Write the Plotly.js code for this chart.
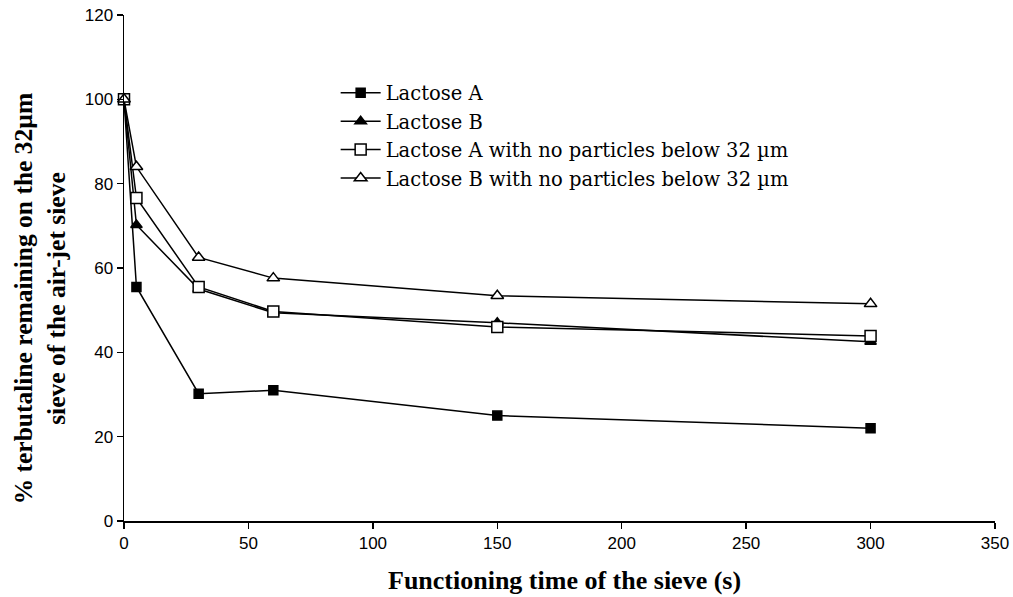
<!DOCTYPE html>
<html>
<head>
<meta charset="utf-8">
<script src="https://cdn.plot.ly/plotly-3.0.1.min.js"></script>
<style>html,body{margin:0;padding:0;background:#fff;}#chart{width:1013px;height:597px;}</style>
</head>
<body>
<div id="chart"></div>
<script>
var timeSeconds = [0, 5, 30, 60, 150, 300];
var lactoseA = [100, 55.5, 30.2, 31, 25, 22];
var lactoseB = [100, 70.2, 55, 49.4, 47, 42.5];
var lactoseANoFines = [100, 76.6, 55.5, 49.7, 46, 43.9];
var lactoseBNoFines = [100, 84, 62.5, 57.6, 53.4, 51.5];
var seriesNames = ["Lactose A", "Lactose B", "Lactose A with no particles below 32 \u00b5m", "Lactose B with no particles below 32 \u00b5m"];
var xTitle = "Functioning time of the sieve (s)";
var yTitle = "% terbutaline remaining on the 32\u00b5m<br>sieve of the air-jet sieve";

function mk(y, name, symbol, size, fill) {
  return {
    x: timeSeconds, y: y, name: name, type: 'scatter', mode: 'lines+markers',
    line: {color: '#000', width: 1.5},
    marker: {symbol: symbol, size: size, color: fill, line: {color: '#000', width: 1.5}},
    cliponaxis: false
  };
}
var data = [
  mk(lactoseA, seriesNames[0], 'square', 9, '#000'),
  mk(lactoseB, seriesNames[1], 'triangle-up', 10, '#000'),
  mk(lactoseANoFines, seriesNames[2], 'square', 11, '#fff'),
  mk(lactoseBNoFines, seriesNames[3], 'triangle-up', 11, '#fff')
];
var layout = {
  width: 1013, height: 597,
  margin: {l: 124, r: 18, t: 15, b: 76},
  paper_bgcolor: '#fff', plot_bgcolor: '#fff',
  showlegend: true,
  legend: {x: 0.243, y: 0.884, xanchor: 'left', yanchor: 'top', bgcolor: 'rgba(0,0,0,0)',
           font: {family: 'DejaVu Serif, serif', size: 19.5, color: '#000'},
           tracegroupgap: 0, itemwidth: 40},
  xaxis: {range: [0, 350], dtick: 50, showgrid: false, zeroline: false, showline: true,
          linecolor: '#000', linewidth: 1.5, ticks: 'outside', ticklen: 6, tickcolor: '#000', tickwidth: 1.5,
          tickfont: {family: 'Liberation Sans, Arial, sans-serif', size: 17, color: '#000'}},
  yaxis: {range: [0, 120], dtick: 20, showgrid: false, zeroline: false, showline: true,
          linecolor: '#000', linewidth: 1.5, ticks: 'outside', ticklen: 6, tickcolor: '#000', tickwidth: 1.5,
          tickfont: {family: 'Liberation Sans, Arial, sans-serif', size: 17, color: '#000'}},
  annotations: [{
    text: yTitle,
    xref: 'paper', yref: 'paper', x: 0, y: 0.44, xanchor: 'center', yanchor: 'middle',
    xshift: -84, textangle: -90, showarrow: false,
    font: {family: 'Liberation Serif, Times New Roman, serif', size: 25.5, color: '#000', weight: 'bold'}
  }, {
    text: xTitle,
    xref: 'paper', yref: 'paper', x: 0.506, y: -0.117, xanchor: 'center', yanchor: 'middle',
    showarrow: false,
    font: {family: 'Liberation Serif, Times New Roman, serif', size: 26, color: '#000', weight: 'bold'}
  }]
};
Plotly.newPlot('chart', data, layout, {displayModeBar: false, staticPlot: true});
</script>
</body>
</html>
